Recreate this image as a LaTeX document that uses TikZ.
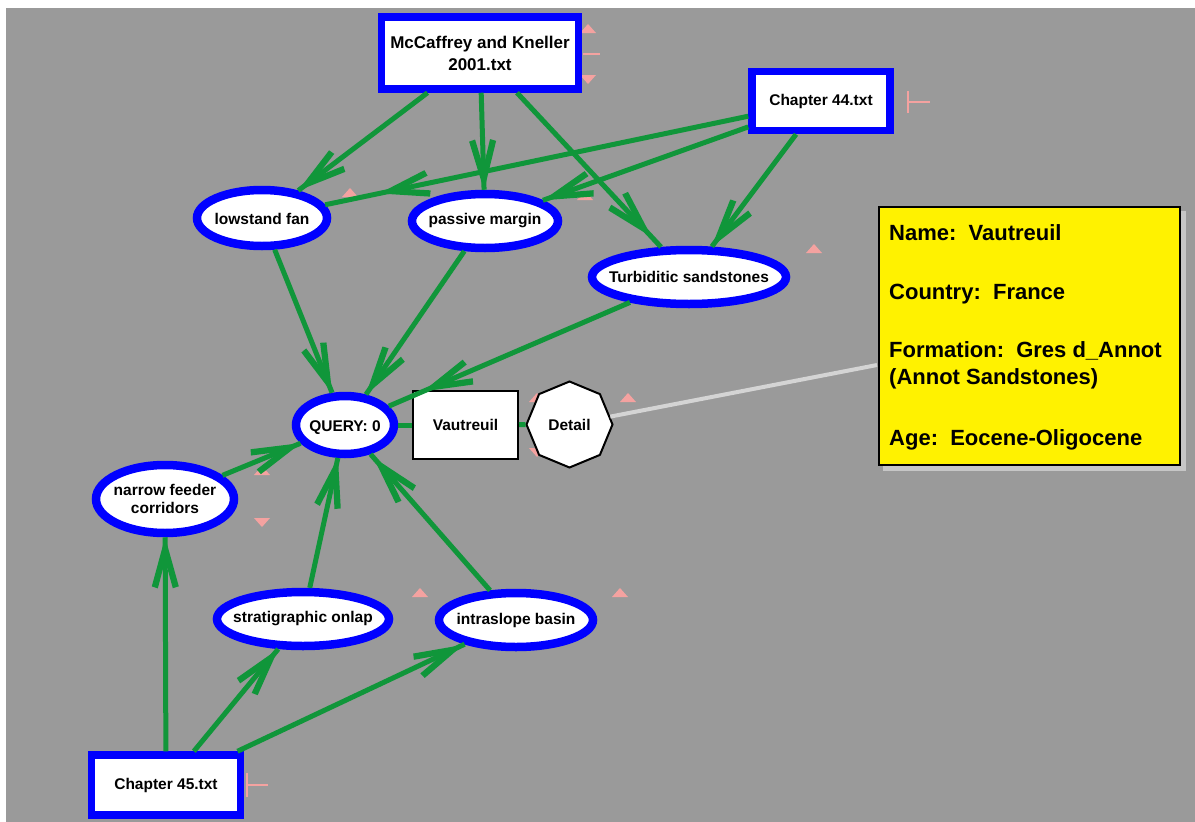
\documentclass[tikz,border=0pt]{standalone}
\usepackage{fontspec}
\setmainfont{Liberation Sans}
\usetikzlibrary{shapes.geometric,decorations.markings}
\definecolor{bg}{HTML}{9A9A9A}
\definecolor{edgegreen}{RGB}{16,150,58}
\definecolor{pinkm}{HTML}{F4A2A0}
\definecolor{nodeblue}{RGB}{0,0,255}
\definecolor{linkgray}{HTML}{D4D4D4}
\definecolor{shadowgray}{HTML}{C6C6C6}
\begin{document}
\begin{tikzpicture}[x=1pt,y=-1pt,
  lbl/.style={font=\fontsize{15.5}{18.5}\selectfont\bfseries, align=center, inner sep=0pt},
  ell/.style={ellipse, draw=nodeblue, line width=8.5pt, fill=white, inner sep=0pt},
  filebox/.style={lbl, rectangle, draw=nodeblue, line width=7.5pt, fill=white},
  edge/.style={draw=edgegreen, line width=5pt,
    postaction={decorate, decoration={markings, mark=at position #1 with
      {\fill[edgegreen] (1,0) -- (-48,13.5) -- (-50,7.5) -- (-22,0) -- (-50,-7.5) -- (-48,-13.5) -- cycle;}}}},
  link/.style={draw=edgegreen, line width=5pt},
  infotext/.style={font=\fontsize{22}{26}\selectfont\bfseries, anchor=base west, inner sep=0pt},
  uptri/.pic={\fill[pinkm] (-8,4) -- (8,4) -- (0,-5) -- cycle;},
  downtri/.pic={\fill[pinkm] (-8,-4) -- (8,-4) -- (0,5) -- cycle;},
]
\useasboundingbox (0,0) rectangle (1195,822);
\fill[bg] (6,8) rectangle (1195,822);

% pink markers
\pic at (588,29) {uptri};
\pic at (588,79) {downtri};
\draw[pinkm, line width=1.5pt] (583,54) -- (600,54);
\draw[pinkm, line width=1.5pt] (908,91) -- (908,113) (908,102) -- (930,102);
\draw[pinkm, line width=1.5pt] (247,773) -- (247,797) (247,785) -- (268,785);
\pic at (350,193) {uptri};
\pic at (585,196) {uptri};
\pic at (814,249) {uptri};
\pic at (628,398) {uptri};
\pic at (537,398) {uptri};
\pic at (537,452) {downtri};
\pic at (420,593) {uptri};
\pic at (620,593) {uptri};
\pic at (262,471) {uptri};
\pic at (262,522) {downtri};

% file boxes
\node[filebox, minimum width=197pt, minimum height=72pt, font=\fontsize{17}{22}\selectfont\bfseries] (mcc) at (480,53) {McCaffrey and Kneller\\2001.txt};
\node[filebox, minimum width=138pt, minimum height=59pt] (ch44) at (821,101) {Chapter 44.txt};
\node[filebox, minimum width=149pt, minimum height=60pt] (ch45) at (166,785) {Chapter 45.txt};

% concept ellipses
\node[ell, minimum width=130pt, minimum height=56pt] (lowstand) at (262,218) {};
\node[lbl] (lowstandt) at ([yshift=-1pt]lowstand.center) {lowstand fan};
\node[ell, minimum width=146pt, minimum height=54pt] (passive) at (485,221) {};
\node[lbl] (passivet) at (passive) {passive margin};
\node[ell, minimum width=194pt, minimum height=54pt] (turb) at (689,277) {};
\node[lbl] (turbt) at (turb) {Turbiditic sandstones};
\node[ell, minimum width=98pt, minimum height=58pt] (query) at (345,425) {};
\node[lbl] (queryt) at ([yshift=-2.5pt]query.center) {QUERY: 0};
\node[ell, minimum width=138pt, minimum height=68pt] (narrow) at (165,499) {};
\node[lbl] (narrowt) at (narrow) {narrow feeder\\corridors};
\node[ell, minimum width=172pt, minimum height=54pt] (onlap) at (303,619) {};
\node[lbl] (onlapt) at (onlap) {stratigraphic onlap};
\node[ell, minimum width=154pt, minimum height=54pt] (intra) at (516,620) {};
\node[lbl] (intrat) at (intra) {intraslope basin};

% result nodes
\node[lbl, draw=black, line width=2pt, fill=white, minimum width=105pt, minimum height=68pt] (vaut) at (465.5,425) {Vautreuil};
\node[lbl, regular polygon, regular polygon sides=8, shape border rotate=22.5, draw=black, line width=2pt, fill=white, minimum size=86pt] (detail) at (569.5,424.5) {Detail};

% info box
\node[fill=shadowgray, minimum width=303pt, minimum height=260pt, inner sep=0pt, anchor=north west] (infoshadow) at (883,211) {};
\node[draw=black, line width=2pt, fill=yellow, minimum width=301pt, minimum height=258pt, inner sep=0pt, anchor=north west] (info) at (878,206) {};
\coordinate (infoport) at (877,365);
\draw[linkgray, line width=4pt] (detail) -- (infoport);
\node[infotext] (iname) at (889,240) {Name:\ \ Vautreuil};
\node[infotext] (icountry) at (889,299) {Country:\ \ France};
\node[infotext] (iform) at (889,357) {Formation:\ \ Gres d\_Annot};
\node[infotext] (iform2) at (889,384) {(Annot Sandstones)};
\node[infotext] (iage) at (889,445) {Age:\ \ Eocene-Oligocene};

% small connectors
\draw[link] (query) -- (vaut);
\draw[link] (vaut) -- (detail);

% edges
\path[edge=0.995] (mcc) -- (lowstand);
\path[edge=0.995] (mcc) -- (passive);
\path[edge=0.93] (mcc) -- (turb);
\path[edge=0.87] (ch44) -- (lowstand);
\path[edge=0.995] (ch44) -- (passive);
\path[edge=0.995] (ch44) -- (turb);
\path[edge=0.995] (lowstand) -- (query);
\path[edge=0.995] (passive) -- (query);
\path[edge=0.855] (turb) -- (query);
\path[edge=0.995] (narrow) -- (query);
\path[edge=0.995] (onlap) -- (query);
\path[edge=0.97] (intra) -- (query);
\path[edge=0.995] (ch45) -- (narrow);
\path[edge=0.995] (ch45) -- (onlap);
\path[edge=0.99] (ch45) -- (intra);
\end{tikzpicture}
\end{document}
